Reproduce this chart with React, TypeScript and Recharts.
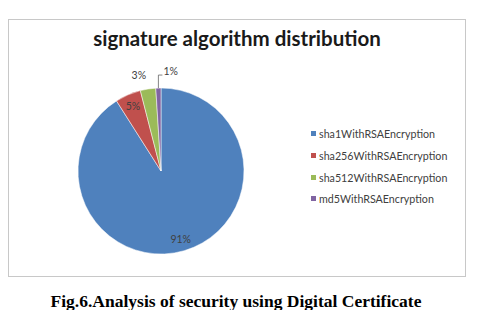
import React from 'react';
import { PieChart, Pie, Cell, Legend } from 'recharts';

const algorithms = [
  'sha1WithRSAEncryption',
  'sha256WithRSAEncryption',
  'sha512WithRSAEncryption',
  'md5WithRSAEncryption',
];
const shares = [91, 5, 3, 1];
const colors = ['#4F81BD', '#C0504D', '#9BBB59', '#8064A2'];

const data = algorithms.map((name, i) => ({ name, value: shares[i] }));

const RAD = Math.PI / 180;

const renderLabel = (props: any) => {
  const { cx, cy, midAngle, outerRadius, percent } = props;
  const cos = Math.cos(-midAngle * RAD);
  const sin = Math.sin(-midAngle * RAD);
  const text = `${Math.round(percent * 100)}%`;
  const style = { fontSize: 10.5, fill: '#404040', fontFamily: 'Lato, sans-serif' };

  if (percent >= 0.04) {
    const r = outerRadius * 0.85;
    return (
      <text x={cx + r * cos} y={cy + r * sin} textAnchor="middle" dominantBaseline="central" style={style}>
        {text}
      </text>
    );
  }
  if (percent >= 0.02) {
    const r = outerRadius + 14;
    return (
      <text x={cx + r * cos - 7} y={cy + r * sin} textAnchor="middle" dominantBaseline="central" style={style}>
        {text}
      </text>
    );
  }
  // tiny slice: leader line up and to the right
  const x0 = cx + outerRadius * cos;
  const y0 = cy + outerRadius * sin;
  const y1 = cy + (outerRadius + 13) * sin;
  return (
    <g>
      <polyline points={`${x0},${y0} ${x0},${y1} ${x0 + 4},${y1}`} fill="none" stroke="#666" strokeWidth={0.8} />
      <text x={x0 + 5} y={y1 - 4} textAnchor="start" dominantBaseline="central" style={style}>
        {text}
      </text>
    </g>
  );
};

const LegendList = () => (
  <div style={{ fontFamily: 'Lato, sans-serif', fontSize: 10.7, color: '#404040' }}>
    {algorithms.map((name, i) => (
      <div key={name} style={{ display: 'flex', alignItems: 'center', height: 21.7 }}>
        <span style={{ width: 5, height: 5, background: colors[i], marginRight: 3 }} />
        <span>{name}</span>
      </div>
    ))}
  </div>
);

export default function App() {
  return (
    <div style={{ position: 'absolute', left: 0, top: 0, width: 498, height: 310, background: '#fff' }}>
      <div
        style={{
          position: 'absolute',
          left: 8,
          top: 19,
          width: 456,
          height: 256,
          border: '1px solid #c8c8c8',
        }}
      />
      <div
        style={{
          position: 'absolute',
          left: 8,
          width: 458,
          top: 26,
          textAlign: 'center',
          fontFamily: 'Lato, sans-serif',
          fontWeight: 700,
          fontSize: 20.5,
          color: '#1a1a1a',
        }}
      >
        signature algorithm distribution
      </div>
      <div style={{ position: 'absolute', left: 0, top: 0 }}>
        <PieChart width={498} height={310}>
          <Pie
            data={data}
            dataKey="value"
            nameKey="name"
            cx={156}
            cy={166}
            outerRadius={83}
            startAngle={90}
            endAngle={-270}
            stroke="#ffffff"
            strokeWidth={0.5}
            label={renderLabel}
            labelLine={false}
            isAnimationActive={false}
          >
            {data.map((d, i) => (
              <Cell key={d.name} fill={colors[i]} />
            ))}
          </Pie>
          <Legend content={<LegendList />} wrapperStyle={{ left: 311, top: 123, width: 160 }} />
        </PieChart>
      </div>
      <div
        style={{
          position: 'absolute',
          left: 0,
          width: 472,
          top: 291,
          textAlign: 'center',
          fontFamily: '"Liberation Serif", serif',
          fontWeight: 700,
          fontSize: 17.5,
          color: '#000',
        }}
      >
        Fig.6.Analysis of security using Digital Certificate
      </div>
    </div>
  );
}
